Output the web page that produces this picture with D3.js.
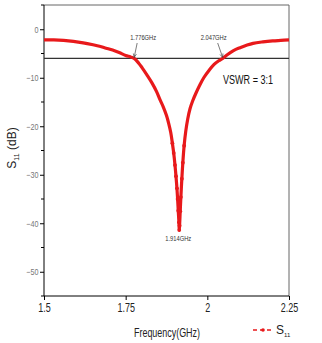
<!DOCTYPE html>
<html>
<head>
<meta charset="utf-8">
<script src="https://cdn.jsdelivr.net/npm/d3@7"></script>
<style>
  body { margin: 0; background: #fff; }
  text { font-family: "Liberation Sans", Arial, sans-serif; }
</style>
</head>
<body>
<svg id="chart" width="322" height="343"></svg>
<script>
var freq = [1.50, 1.53, 1.56, 1.59, 1.62, 1.65, 1.67, 1.69, 1.71, 1.73, 1.75, 1.765, 1.776,
            1.79, 1.80, 1.815, 1.83, 1.845, 1.855, 1.865, 1.875, 1.882, 1.888, 1.893,
            1.897, 1.901, 1.904, 1.907, 1.909, 1.911, 1.913, 1.914, 1.915, 1.917, 1.919,
            1.922, 1.925, 1.929, 1.934, 1.940, 1.947, 1.955, 1.965, 1.977, 1.990, 2.005,
            2.020, 2.035, 2.047, 2.06, 2.08, 2.10, 2.12, 2.14, 2.17, 2.20, 2.225, 2.25];
var s11 = [-2.2, -2.2, -2.3, -2.5, -2.8, -3.2, -3.5, -3.9, -4.3, -4.8, -5.4, -5.7, -6.0,
           -7.0, -7.9, -9.4, -11.0, -12.9, -14.5, -16.0, -17.8, -19.5, -21.3, -23.5,
           -25.5, -28.0, -30.3, -32.8, -35.0, -37.4, -39.8, -41.4, -40.5, -37.5, -34.6,
           -30.8, -27.5, -24.0, -21.0, -18.5, -16.4, -14.8, -13.2, -11.5, -9.9, -8.5,
           -7.3, -6.5, -6.0, -5.3, -4.4, -3.8, -3.3, -2.9, -2.6, -2.4, -2.3, -2.2];

var xTicks = [1.5, 1.75, 2, 2.25];
var xTickLabels = ['1.5', '1.75', '2', '2.25'];
var yTicks = [0, -10, -20, -30, -40, -50];
var yMinorTicks = [5, -5, -15, -25, -35, -45, -55];
var vswrLevel = [-6.02];
var markers = [
  {f: 1.776, label: '1.776GHz'},
  {f: 2.047, label: '2.047GHz'}
];
var minMarker = {f: 1.914, v: -41.4, label: '1.914GHz'};

var svg = d3.select('#chart');
var x = d3.scaleLinear().domain([1.5, 2.25]).range([44, 289]);
var y = d3.scaleLinear().domain([-55, 5]).range([296, 5]);

// frame (top / right in gray)
svg.append('line').attr('x1', 44).attr('x2', 289).attr('y1', 5).attr('y2', 5)
  .attr('stroke', '#666').attr('stroke-width', 1);
svg.append('line').attr('x1', 289).attr('x2', 289).attr('y1', 5).attr('y2', 296)
  .attr('stroke', '#666').attr('stroke-width', 1);

// y axis
var yAxis = svg.append('g').attr('transform', 'translate(44,0)')
  .call(d3.axisLeft(y).tickValues(yTicks).tickSize(4).tickPadding(3).tickFormat(d3.format('d')));
yAxis.append('g').selectAll('line').data(yMinorTicks).enter().append('line')
  .attr('x1', -3).attr('x2', 0)
  .attr('y1', function(d) { return y(d); }).attr('y2', function(d) { return y(d); })
  .attr('stroke', '#000');
yAxis.select('.domain').attr('stroke', '#000').attr('d', 'M0,5V296');
yAxis.selectAll('.tick text').attr('font-size', 9).attr('fill', '#777')
  .attr('transform', 'scale(0.8,1)')
  .attr('font-family', '"Liberation Sans", Arial, sans-serif');

// x axis
var xAxis = svg.append('g').attr('transform', 'translate(0,296)')
  .call(d3.axisBottom(x).tickValues(xTicks).tickSize(4).tickPadding(3)
    .tickFormat(function(d, i) { return xTickLabels[i]; }));
xAxis.select('.domain').attr('d', 'M44,0H289');
xAxis.selectAll('.tick text').attr('font-size', 12).attr('fill', '#222')
  .attr('transform', 'scale(0.75,1)')
  .attr('font-family', '"Liberation Sans", Arial, sans-serif');

// VSWR 3:1 line
svg.selectAll('.vswr').data(vswrLevel).enter().append('line')
  .attr('x1', 44).attr('x2', 289)
  .attr('y1', function(d) { return y(d); }).attr('y2', function(d) { return y(d); })
  .attr('stroke', '#333').attr('stroke-width', 1.2);

// S11 curve
var pts = freq.map(function(f, i) { return [f, s11[i]]; });
var line = d3.line().x(function(d) { return x(d[0]); }).y(function(d) { return y(d[1]); })
  .curve(d3.curveCatmullRom);
svg.append('path').datum(pts).attr('d', line)
  .attr('fill', 'none').attr('stroke', '#e8191b').attr('stroke-width', 3.2);
svg.selectAll('.pt').data(pts.filter(function(d) { return d[1] < -22; })).enter()
  .append('circle')
  .attr('cx', function(d) { return x(d[0]); }).attr('cy', function(d) { return y(d[1]); })
  .attr('r', 1.9).attr('fill', '#e8191b');

// annotations
markers.forEach(function(m, i) {
  var px = x(m.f), py = y(-6.02);
  var tx = i === 0 ? px + 9 : px - 9;
  svg.append('text').attr('x', tx).attr('y', 40).attr('text-anchor', 'middle')
    .attr('font-size', 6.5).attr('fill', '#333')
    .attr('textLength', 26).attr('lengthAdjust', 'spacingAndGlyphs').text(m.label);
  var sx = tx + (i === 0 ? -6 : 4), sy = 43;
  svg.append('line').attr('x1', sx).attr('y1', sy)
    .attr('x2', px).attr('y2', py - 1).attr('stroke', '#444').attr('stroke-width', 0.7);
  var a = Math.atan2(py - 1 - sy, px - sx);
  var hx = px, hy = py - 1;
  svg.append('path')
    .attr('d', 'M' + (hx - 4 * Math.cos(a - 0.4)) + ',' + (hy - 4 * Math.sin(a - 0.4)) +
      'L' + hx + ',' + hy + 'L' + (hx - 4 * Math.cos(a + 0.4)) + ',' + (hy - 4 * Math.sin(a + 0.4)))
    .attr('fill', 'none').attr('stroke', '#444').attr('stroke-width', 0.7);
});
svg.append('text').attr('x', x(minMarker.f) - 1).attr('y', y(minMarker.v) + 11)
  .attr('text-anchor', 'middle').attr('font-size', 6.5).attr('fill', '#333')
  .attr('textLength', 26).attr('lengthAdjust', 'spacingAndGlyphs')
  .text(minMarker.label);

svg.append('text').attr('x', 223).attr('y', 84).attr('font-size', 12.5)
  .attr('fill', '#111').attr('textLength', 50).attr('lengthAdjust', 'spacingAndGlyphs')
  .text('VSWR = 3:1');

// axis titles
var yt = svg.append('text').attr('transform', 'translate(16,148) rotate(-90)')
  .attr('text-anchor', 'middle').attr('font-size', 12).attr('fill', '#222');
yt.append('tspan').text('S');
yt.append('tspan').attr('font-size', 7).attr('dy', 3).text('11');
yt.append('tspan').attr('dy', -3).text(' (dB)');

svg.append('text').attr('x', 134).attr('y', 337)
  .attr('font-size', 12.5).attr('fill', '#222')
  .attr('textLength', 66).attr('lengthAdjust', 'spacingAndGlyphs').text('Frequency(GHz)');

// legend
var lg = svg.append('g').attr('transform', 'translate(253,330)');
lg.append('line').attr('x1', 0).attr('x2', 19).attr('y1', 0).attr('y2', 0)
  .attr('stroke', '#e8191b').attr('stroke-width', 1.5).attr('stroke-dasharray', '4,3');
lg.append('circle').attr('cx', 10).attr('cy', 0).attr('r', 1.8).attr('fill', '#e8191b');
var lt = lg.append('text').attr('x', 23).attr('y', 4).attr('font-size', 12).attr('fill', '#222');
lt.append('tspan').text('S');
lt.append('tspan').attr('font-size', 6).attr('dy', 3).text('11');
</script>
</body>
</html>
